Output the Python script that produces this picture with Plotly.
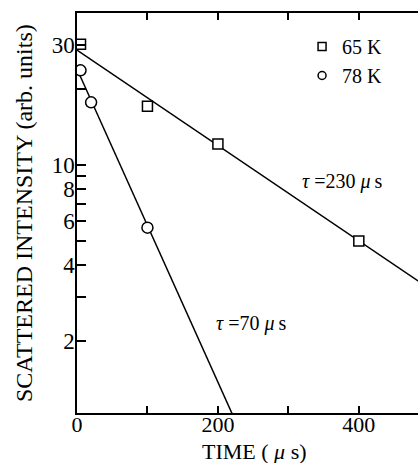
import numpy as np
import plotly.graph_objects as go

# Measured decay data (time in microseconds, intensity in arbitrary units)
time_65K = [5, 100, 200, 400]
intensity_65K = [30.1, 17.1, 12.1, 5.0]
time_78K = [5, 20, 100]
intensity_78K = [23.7, 17.7, 5.64]

# Single-exponential fits I(t) = A * exp(-t / tau)
fit_amp_65K = 28.5
fit_tau_65K = 230
fit_amp_78K = 24.0
fit_tau_78K = 70

x_tick_vals = [0, 100, 200, 300, 400]
x_tick_text = ["0", "", "200", "", "400"]
y_tick_vals = [2, 3, 4, 5, 6, 7, 8, 9, 10, 20, 30]
y_tick_text = ["2", "", "4", "", "6", "", "8", "", "10", "", "30"]

FONT = "Liberation Serif"
t_fit = np.linspace(0, 500, 60)

fig = go.Figure()

for amp, tau in [(fit_amp_65K, fit_tau_65K), (fit_amp_78K, fit_tau_78K)]:
    fig.add_trace(go.Scatter(
        x=t_fit, y=amp * np.exp(-t_fit / tau), mode="lines",
        line=dict(color="black", width=1.5), showlegend=False, hoverinfo="skip"))

marker_style = dict(color="white", line=dict(color="black", width=1.5))
fig.add_trace(go.Scatter(x=time_65K, y=intensity_65K, mode="markers", showlegend=False,
                         marker=dict(symbol="square", size=10, **marker_style)))
fig.add_trace(go.Scatter(x=time_78K, y=intensity_78K, mode="markers", showlegend=False,
                         marker=dict(symbol="circle", size=11, **marker_style)))

# Legend entries
fig.add_trace(go.Scatter(x=[None], y=[None], mode="markers", name="65 K",
                         marker=dict(symbol="square", size=8, **marker_style)))
fig.add_trace(go.Scatter(x=[None], y=[None], mode="markers", name="78 K",
                         marker=dict(symbol="circle", size=8, **marker_style)))

axis_common = dict(showline=True, linecolor="black", linewidth=1.5, ticks="inside",
                   tickcolor="black", tickwidth=1.5, showgrid=False, zeroline=False)

fig.update_xaxes(range=[0, 484], tickmode="array", tickvals=x_tick_vals,
                 ticktext=x_tick_text, ticklen=7, mirror="ticks", ticklabelstandoff=-9,
                 tickfont=dict(family=FONT, size=22, color="black"), **axis_common)
fig.update_yaxes(type="log", range=[np.log10(1.04), np.log10(40)], tickmode="array",
                 tickvals=y_tick_vals, ticktext=y_tick_text, ticklen=9, mirror=False,
                 ticklabelstandoff=-4,
                 tickfont=dict(family=FONT, size=23, color="black"), **axis_common)

annotations = [
    dict(text="<i>τ</i> =230 <i>μ</i>&#8201;s", x=377, y=np.log10(8.57), xref="x", yref="y",
         showarrow=False, font=dict(family=FONT, size=20, color="black")),
    dict(text="<i>τ</i> =70 <i>μ</i>&#8201;s", x=247, y=np.log10(2.36), xref="x", yref="y",
         showarrow=False, font=dict(family=FONT, size=20, color="black")),
    dict(text="TIME ( <i>μ</i> s)", x=252, y=0, xref="x", yref="paper", yshift=-38,
         xanchor="center", yanchor="middle", showarrow=False,
         font=dict(family=FONT, size=22, color="black")),
    dict(text="SCATTERED INTENSITY (arb. units)", x=0, y=0.5, xref="paper", yref="paper",
         xshift=-53, textangle=-90, xanchor="center", yanchor="middle", showarrow=False,
         font=dict(family=FONT, size=24, color="black")),
]

fig.update_layout(
    width=418, height=463,
    margin=dict(l=77, r=0, t=13, b=50),
    paper_bgcolor="white", plot_bgcolor="white",
    font=dict(family=FONT, color="black"),
    showlegend=True,
    legend=dict(x=0.66, y=0.965, xanchor="left", yanchor="top", bgcolor="rgba(0,0,0,0)",
                font=dict(family=FONT, size=20, color="black"), itemwidth=30,
                tracegroupgap=0),
    annotations=annotations,
)

fig.write_html("out.html")
